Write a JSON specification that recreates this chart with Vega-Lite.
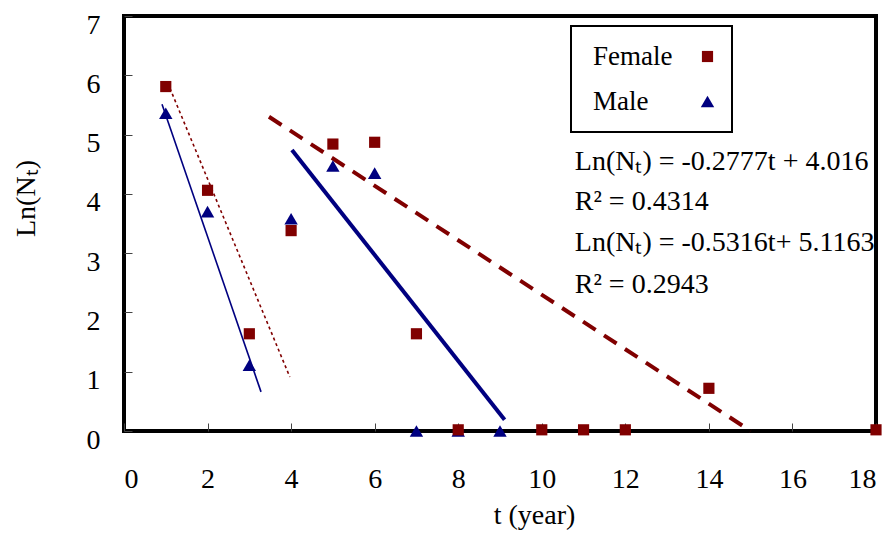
{
  "$schema": "https://vega.github.io/schema/vega-lite/v6.json",
  "width": 752,
  "height": 415,
  "autosize": "none",
  "padding": {"left": 124, "top": 16, "right": 20, "bottom": 103},
  "background": "white",
  "config": {
    "font": "Liberation Serif",
    "view": {"stroke": "black", "strokeWidth": 4},
    "axis": {"grid": false, "domain": false, "labelFont": "Liberation Serif", "titleFont": "Liberation Serif", "labelColor": "black", "titleColor": "black", "titleFontWeight": "normal", "labelFontSize": 28, "titleFontSize": 28, "tickColor": "#444", "tickWidth": 1, "tickSize": -8},
    "legend": {"orient": "none", "legendX": 447, "legendY": 10, "strokeColor": "black", "strokeWidth": 2, "fillColor": "white", "padding": 17, "labelFont": "Liberation Serif", "labelFontSize": 27, "labelColor": "black", "labelOffset": -128, "symbolOffset": 106, "rowPadding": 17, "symbolStrokeWidth": 0, "labelBaseline": "middle", "labelLimit": 200}
  },
  "datasets": {
    "points": [
      {"t": 1, "lnN": 5.36, "sex": "Male"},
      {"t": 2, "lnN": 3.70, "sex": "Male"},
      {"t": 3, "lnN": 1.11, "sex": "Male"},
      {"t": 4, "lnN": 3.58, "sex": "Male"},
      {"t": 5, "lnN": 4.47, "sex": "Male"},
      {"t": 6, "lnN": 4.35, "sex": "Male"},
      {"t": 7, "lnN": 0, "sex": "Male"},
      {"t": 8, "lnN": 0, "sex": "Male"},
      {"t": 9, "lnN": 0, "sex": "Male"},
      {"t": 1, "lnN": 5.81, "sex": "Female"},
      {"t": 2, "lnN": 4.06, "sex": "Female"},
      {"t": 3, "lnN": 1.64, "sex": "Female"},
      {"t": 4, "lnN": 3.38, "sex": "Female"},
      {"t": 5, "lnN": 4.84, "sex": "Female"},
      {"t": 6, "lnN": 4.87, "sex": "Female"},
      {"t": 7, "lnN": 1.64, "sex": "Female"},
      {"t": 8, "lnN": 0.02, "sex": "Female"},
      {"t": 10, "lnN": 0.02, "sex": "Female"},
      {"t": 11, "lnN": 0.02, "sex": "Female"},
      {"t": 12, "lnN": 0.02, "sex": "Female"},
      {"t": 14, "lnN": 0.72, "sex": "Female"},
      {"t": 18, "lnN": 0.02, "sex": "Female"}
    ],
    "fits": [
      {"fit": "female_early", "t": 1.1, "lnN": 5.78},
      {"fit": "female_early", "t": 3.97, "lnN": 0.91},
      {"fit": "male_early", "t": 0.91, "lnN": 5.51},
      {"fit": "male_early", "t": 3.28, "lnN": 0.66},
      {"fit": "female_late", "t": 3.47, "lnN": 5.3},
      {"fit": "female_late", "t": 15.0, "lnN": 0.0},
      {"fit": "male_late", "t": 4.02, "lnN": 4.74},
      {"fit": "male_late", "t": 9.11, "lnN": 0.19}
    ],
    "notes": [
      {"t": 10.79, "lnN": 4.40, "label": "Ln(Nₜ) = -0.2777t + 4.016"},
      {"t": 10.79, "lnN": 3.73, "label": "R² = 0.4314"},
      {"t": 10.79, "lnN": 3.04, "label": "Ln(Nₜ) = -0.5316t+ 5.1163"},
      {"t": 10.79, "lnN": 2.33, "label": "R² = 0.2943"}
    ]
  },
  "encoding": {
    "x": {"field": "t", "type": "quantitative", "scale": {"domain": [0, 18], "nice": false, "zero": false},
      "axis": {"values": [0, 2, 4, 6, 8, 10, 12, 14, 16, 18], "title": "t (year)", "labelPadding": 64, "labelBaseline": "alphabetic", "titleX": 410, "titleY": 92, "titleBaseline": "alphabetic", "titleAlign": "center"}},
    "y": {"field": "lnN", "type": "quantitative", "scale": {"domain": [0, 7], "nice": false},
      "axis": {"values": [0, 1, 2, 3, 4, 5, 6, 7], "title": "Ln(Nₜ)", "labelPadding": 32, "labelBaseline": "top", "labelOffset": -5, "titleAngle": -90, "titleX": -98, "titleY": 182, "titleAlign": "center", "titleBaseline": "middle"}}
  },
  "layer": [
    {"data": {"name": "fits"}, "transform": [{"filter": "datum.fit === 'female_early'"}],
     "mark": {"type": "line", "color": "#800000", "strokeWidth": 1.6, "strokeDash": [3, 3]}},
    {"data": {"name": "fits"}, "transform": [{"filter": "datum.fit === 'male_early'"}],
     "mark": {"type": "line", "color": "#000080", "strokeWidth": 1.6}},
    {"data": {"name": "fits"}, "transform": [{"filter": "datum.fit === 'female_late'"}],
     "mark": {"type": "line", "color": "#800000", "strokeWidth": 4, "strokeDash": [15, 10]}},
    {"data": {"name": "fits"}, "transform": [{"filter": "datum.fit === 'male_late'"}],
     "mark": {"type": "line", "color": "#000080", "strokeWidth": 4}},
    {"data": {"name": "points"},
     "mark": {"type": "point", "filled": true, "opacity": 1},
     "encoding": {
       "shape": {"field": "sex", "type": "nominal", "scale": {"domain": ["Female", "Male"], "range": ["square", "triangle-up"]}, "title": null},
       "color": {"field": "sex", "type": "nominal", "scale": {"domain": ["Female", "Male"], "range": ["#800000", "#000080"]}, "title": null},
       "size": {"field": "sex", "type": "nominal", "scale": {"domain": ["Female", "Male"], "range": [125, 180]}, "title": null},
       "order": {"field": "sex", "sort": "descending"}
     }},
    {"data": {"name": "notes"},
     "mark": {"type": "text", "align": "left", "baseline": "alphabetic", "fontSize": 28, "font": "Liberation Serif", "color": "black"},
     "encoding": {"text": {"field": "label"}}}
  ]
}
